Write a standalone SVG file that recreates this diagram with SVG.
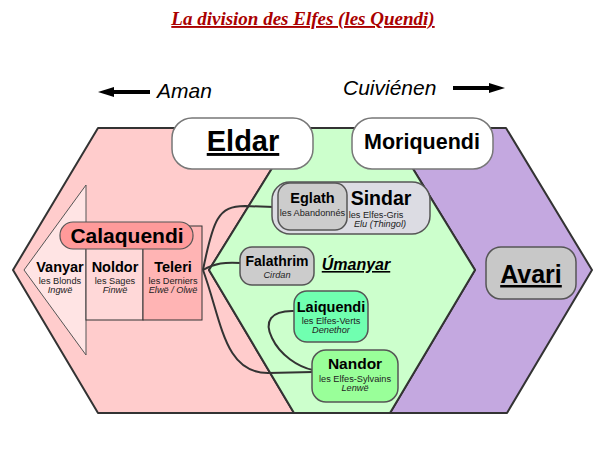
<svg xmlns="http://www.w3.org/2000/svg" width="600" height="450" viewBox="0 0 600 450">
<defs>
<marker id="ah" viewBox="0 0 16 10" markerWidth="16" markerHeight="10" refX="1" refY="5" orient="auto" markerUnits="userSpaceOnUse">
<path d="M0,0 L16,5 L0,10 z" fill="#000"/>
</marker>
<style>
text{font-family:"Liberation Sans",Arial,sans-serif;text-anchor:middle;fill:#000}
.title{font-family:"Liberation Serif","Times New Roman",serif;font-weight:bold;font-style:italic;font-size:19px;fill:#aa0000;text-decoration:underline}
.dir{font-style:italic;font-size:21px;text-anchor:start}
.hex{stroke:#333;stroke-width:2;stroke-linejoin:round}
.big{font-weight:bold}
.ul{text-decoration:underline}
.sub{font-size:9.2px;fill:#222}
.it{font-size:9.2px;font-style:italic;fill:#222}
.box{stroke:#555;stroke-width:1.5}
.wbox{fill:#fff;stroke:#777;stroke-width:1.5}
.conn{fill:none;stroke:#333;stroke-width:2}
.col{stroke:#333;stroke-width:1}
</style>
</defs>

<text class="title" x="303" y="25">La division des Elfes (les Quendi)</text>

<g id="directions">
<line x1="150" y1="92" x2="113" y2="92" stroke="#000" stroke-width="4" marker-end="url(#ah)"/>
<text class="dir" x="157" y="98">Aman</text>
<text class="dir" x="343" y="95">Cuiviénen</text>
<line x1="453" y1="88" x2="490" y2="88" stroke="#000" stroke-width="4" marker-end="url(#ah)"/>
</g>

<g id="regions">
<polygon class="hex" fill="#ffcccc" points="98,128 297,128 209,270 294,413 98,413 13,270"/>
<polygon class="hex" fill="#c4a8e0" points="388,128 506,128 592,270 507,413 390,413 475,270"/>
<polygon class="hex" fill="#ccffcc" points="297,128 388,128 475,270 390,413 294,413 209,270"/>
</g>

<g id="calaquendi-group">
<polygon fill="#ffe4e4" stroke="#555" stroke-width="1" points="24,270 86,185 86,355"/>
<rect class="col" x="86" y="226" width="57" height="94" fill="#ffd8d8"/>
<rect class="col" x="143" y="226" width="59" height="94" fill="#ffb4b4"/>
</g>

<g id="connectors">
<path class="conn" d="M203,270 C213,220 218,206 245,206 L274,207"/>
<path class="conn" d="M203,270 C215,263 225,262 241,263"/>
<path class="conn" d="M203,270 C222,322 224,373 268,373 L313,372"/>
<path class="conn" d="M295,311 C270,310 264,322 272,338 C280,355 298,367 313,370"/>
</g>

<g id="eldar">
<rect class="wbox" x="172" y="118" width="141" height="51" rx="20"/>
<text class="big ul" x="243" y="151" font-size="29">Eldar</text>
</g>

<g id="moriquendi">
<rect class="wbox" x="352" y="118" width="141" height="51" rx="20"/>
<text class="big" x="422" y="149" font-size="21.5">Moriquendi</text>
</g>

<g id="calaquendi">
<rect x="60" y="222" width="133" height="27" rx="13" fill="#ff9a9a" stroke="#555" stroke-width="1.2"/>
<text class="big" x="127" y="243" font-size="21">Calaquendi</text>
</g>

<g id="vanyar">
<text class="big" x="60" y="272" font-size="14.5">Vanyar</text>
<text class="sub" x="60" y="284">les Blonds</text>
<text class="it" x="60" y="293">Ingwë</text>
</g>

<g id="noldor">
<text class="big" x="115" y="272" font-size="14.5">Noldor</text>
<text class="sub" x="115" y="284">les Sages</text>
<text class="it" x="115" y="293">Finwë</text>
</g>

<g id="teleri">
<text class="big" x="173" y="272" font-size="14.5">Teleri</text>
<text class="sub" x="173" y="284">les Derniers</text>
<text class="it" x="173" y="293">Elwë / Olwë</text>
</g>

<g id="sindar">
<rect class="box" x="272" y="182" width="158" height="52" rx="18" fill="#dcdce3"/>
<text class="big" x="381" y="205" font-size="19.5">Sindar</text>
<text class="sub" x="376" y="218">les Elfes-Gris</text>
<text class="it" x="380" y="227">Elu (Thingol)</text>
</g>

<g id="eglath">
<rect class="box" x="278" y="183" width="69" height="47" rx="12" fill="#cccccc"/>
<text class="big" x="312.5" y="203" font-size="14.5">Eglath</text>
<text class="sub" x="312.5" y="216" font-size="8.7">les Abandonnés</text>
</g>

<g id="falathrim">
<rect class="box" x="240" y="247" width="74" height="38" rx="12" fill="#cccccc"/>
<text class="big" x="277" y="266" font-size="14">Falathrim</text>
<text class="it" x="277" y="278">Cirdan</text>
</g>

<g id="umanyar">
<text class="big ul" x="356" y="270" font-size="16" font-style="italic">Úmanyar</text>
</g>

<g id="laiquendi">
<rect class="box" x="294" y="291" width="74" height="51" rx="13" fill="#70ffb0"/>
<text class="big" x="331" y="312" font-size="14.5">Laiquendi</text>
<text class="sub" x="331" y="324">les Elfes-Verts</text>
<text class="it" x="331" y="333">Denethor</text>
</g>

<g id="nandor">
<rect class="box" x="312" y="350" width="86" height="52" rx="14" fill="#99ff99"/>
<text class="big" x="355" y="369" font-size="15.5">Nandor</text>
<text class="sub" x="355" y="382">les Elfes-Sylvains</text>
<text class="it" x="355" y="391">Lenwë</text>
</g>

<g id="avari">
<rect class="box" x="486" y="247" width="90" height="52" rx="15" fill="#c8c8c8"/>
<text class="big ul" x="531" y="283" font-size="25">Avari</text>
</g>
</svg>
